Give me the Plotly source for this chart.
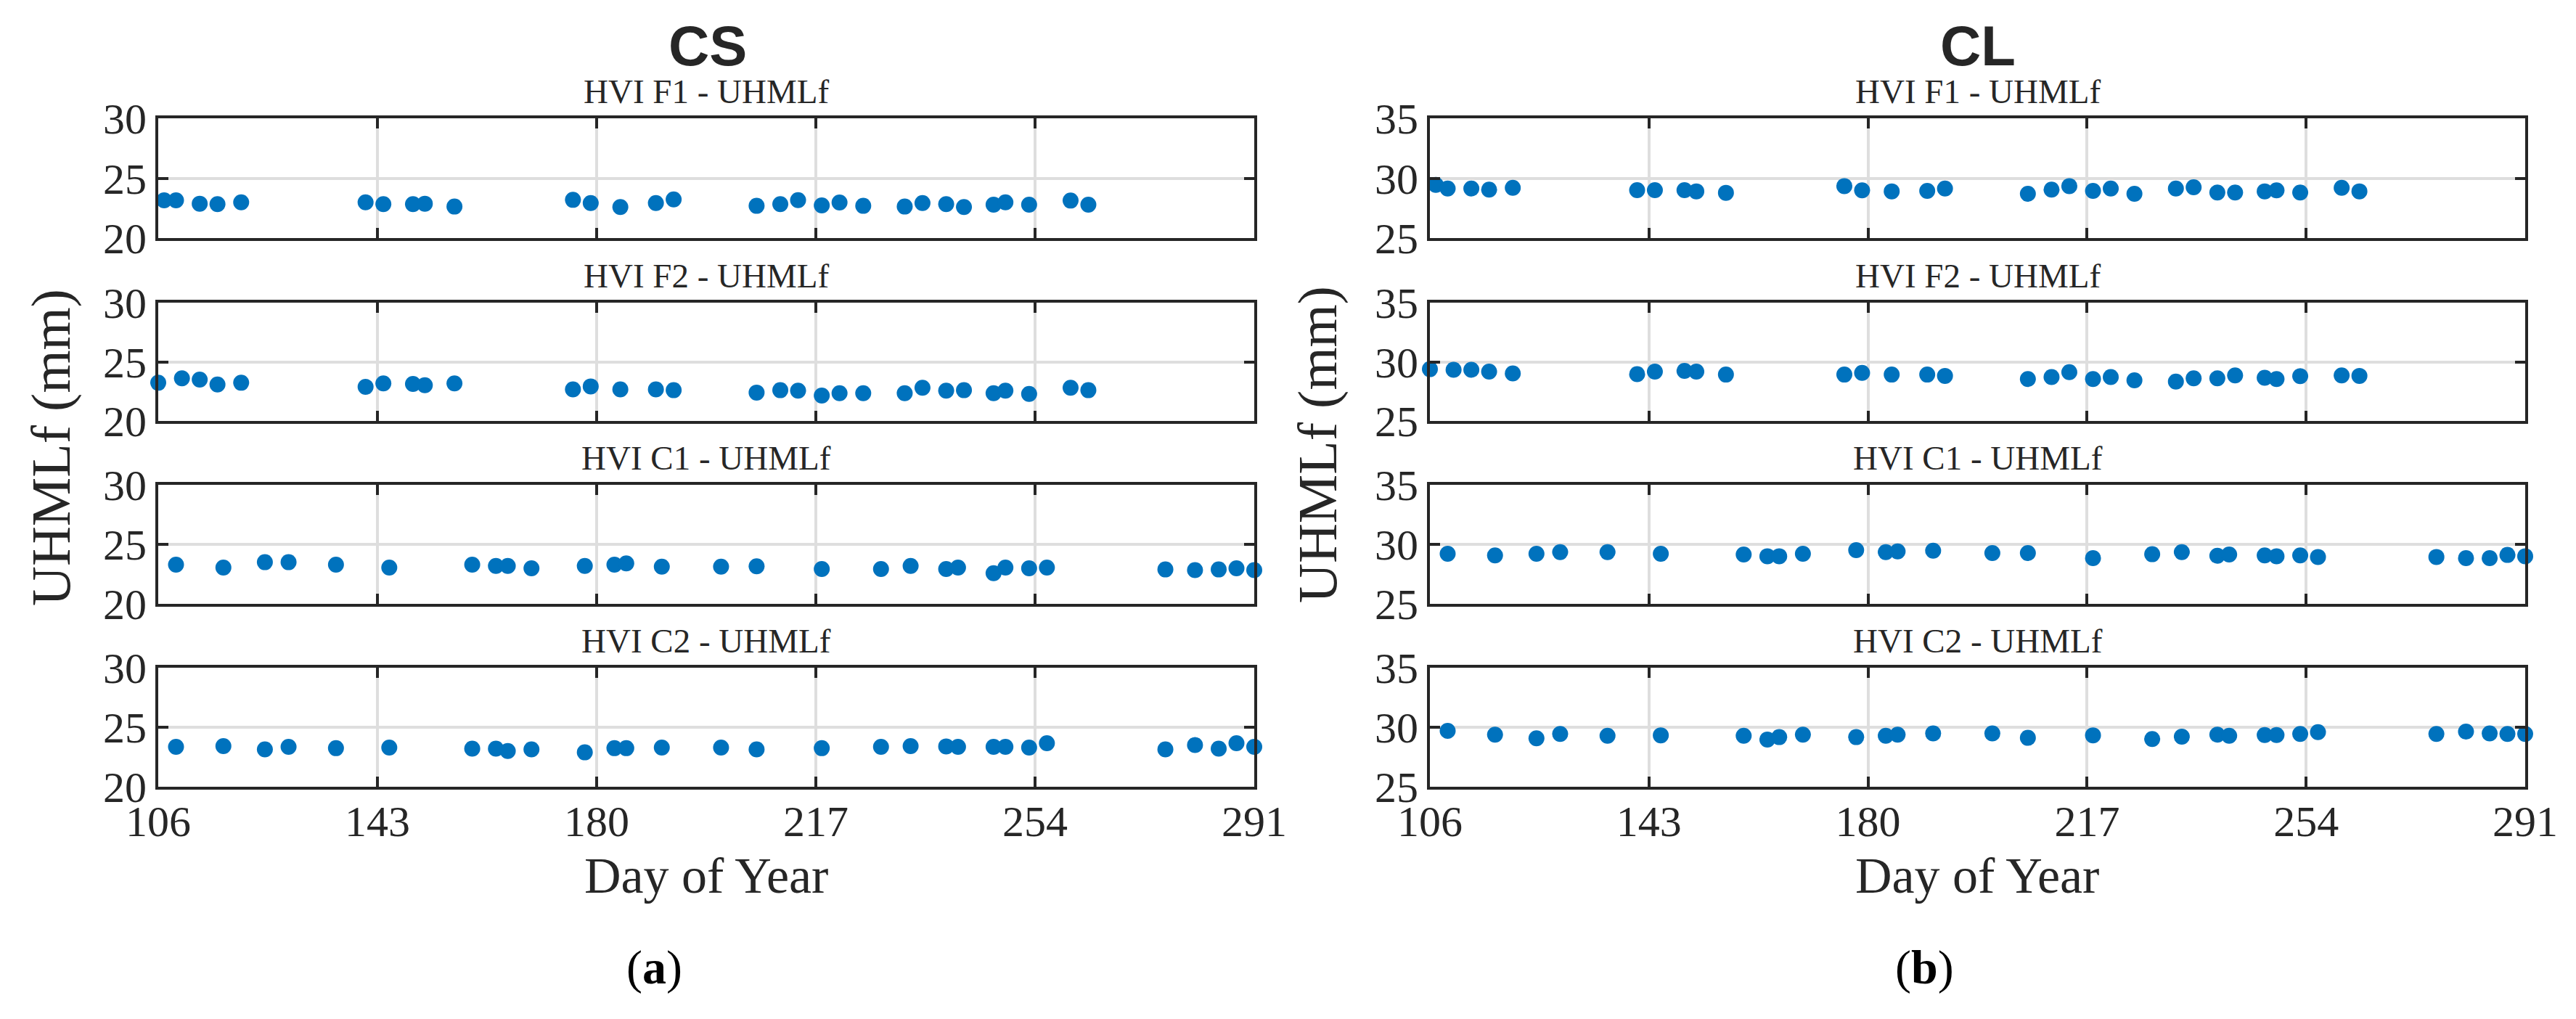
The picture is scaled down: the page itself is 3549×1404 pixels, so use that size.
import plotly.graph_objects as go

# day-of-year sampling (F panels and C panels use different days)
days_f1 = [107, 109, 113, 116, 120, 141, 144, 149, 151, 156, 176, 179, 184, 190, 193,
           207, 211, 214, 218, 221, 225, 232, 235, 239, 242, 247, 249, 253, 260, 263]
days_f2 = [106, 110, 113, 116, 120, 141, 144, 149, 151, 156, 176, 179, 184, 190, 193,
           207, 211, 214, 218, 221, 225, 232, 235, 239, 242, 247, 249, 253, 260, 263]
days_c = [109, 117, 124, 128, 136, 145, 159, 163, 165, 169, 178, 183, 185, 191, 201,
          207, 218, 228, 233, 239, 241, 247, 249, 253, 256, 276, 281, 285, 288, 291]

cs_f1 = [23.15, 23.15, 22.87, 22.83, 22.99, 22.99, 22.83, 22.83, 22.87, 22.63,
         23.19, 22.93, 22.59, 22.93, 23.23, 22.69, 22.83, 23.17, 22.73, 22.97,
         22.69, 22.63, 22.93, 22.83, 22.59, 22.79, 22.99, 22.79, 23.13, 22.79]
cs_f2 = [23.23, 23.6, 23.5, 23.08, 23.23, 22.88, 23.17, 23.13, 23.02, 23.17,
         22.67, 22.92, 22.67, 22.67, 22.6, 22.4, 22.6, 22.56, 22.15, 22.35,
         22.35, 22.35, 22.81, 22.56, 22.6, 22.35, 22.56, 22.29, 22.81, 22.6]
cs_c1 = [23.29, 23.05, 23.5, 23.5, 23.29, 23.05, 23.29, 23.19, 23.19, 22.99,
         23.19, 23.29, 23.4, 23.13, 23.13, 23.15, 22.93, 22.93, 23.19, 22.93,
         23.05, 22.58, 23.05, 22.99, 23.05, 22.89, 22.83, 22.89, 22.99, 22.83]
cs_c2 = [23.35, 23.41, 23.14, 23.35, 23.24, 23.29, 23.2, 23.2, 23.0, 23.14,
         22.89, 23.24, 23.24, 23.29, 23.29, 23.14, 23.24, 23.35, 23.41, 23.39,
         23.35, 23.35, 23.35, 23.29, 23.66, 23.14, 23.51, 23.2, 23.66, 23.35]

cl_f1 = [29.44, 29.14, 29.14, 29.04, 29.2, 29.0, 29.0, 29.0, 28.9, 28.78,
         29.34, 28.98, 28.9, 28.94, 29.14, 28.7, 29.04, 29.34, 28.94, 29.14,
         28.7, 29.14, 29.24, 28.8, 28.8, 28.9, 28.98, 28.8, 29.2, 28.9]
cl_f2 = [29.38, 29.33, 29.33, 29.17, 29.02, 28.96, 29.17, 29.23, 29.17, 28.92,
         28.92, 29.06, 28.92, 28.92, 28.81, 28.54, 28.71, 29.13, 28.54, 28.71,
         28.44, 28.33, 28.6, 28.6, 28.85, 28.65, 28.54, 28.79, 28.85, 28.81]
cl_c1 = [29.21, 29.07, 29.21, 29.35, 29.35, 29.21, 29.15, 29.0, 29.0, 29.21,
         29.51, 29.35, 29.41, 29.47, 29.27, 29.27, 28.84, 29.17, 29.35, 29.04,
         29.15, 29.07, 29.0, 29.07, 28.94, 28.94, 28.84, 28.84, 29.11, 29.0]
cl_c2 = [29.69, 29.38, 29.07, 29.44, 29.28, 29.32, 29.28, 28.97, 29.17, 29.38,
         29.17, 29.28, 29.38, 29.48, 29.48, 29.11, 29.32, 29.01, 29.21, 29.38,
         29.28, 29.34, 29.34, 29.44, 29.59, 29.44, 29.63, 29.48, 29.44, 29.44]

panel_titles = ["HVI F1 - UHMLf", "HVI F2 - UHMLf", "HVI C1 - UHMLf", "HVI C2 - UHMLf"]
x_ticks = [106, 143, 180, 217, 254, 291]
cs_yticks = [20, 25, 30]
cl_yticks = [25, 30, 35]

W, H = 3549, 1404
OFF = 8  # the page body margin shifts the figure by this much
SERIF = "Liberation Serif"
INK = "#262626"
BLUE = "#0072BD"


def px_x(px):
    return (px - OFF) / W


def px_y(py):
    return 1 - (py - OFF) / H


# pixel boxes of the panels (in screenshot pixels)
col_px = [(218, 1728), (1970, 3479)]
row_px = [(163, 328), (417, 580), (668, 832), (920, 1084)]

columns = [
    ([days_f1, days_f2, days_c, days_c], [cs_f1, cs_f2, cs_c1, cs_c2], cs_yticks),
    ([days_f1, days_f2, days_c, days_c], [cl_f1, cl_f2, cl_c1, cl_c2], cl_yticks),
]

fig = go.Figure()
layout = {}
annotations = []

n = 0
for c, (days_list, vals_list, yticks) in enumerate(columns):
    x0, x1 = col_px[c]
    for r in range(4):
        n += 1
        top, bot = row_px[r]
        sfx = "" if n == 1 else str(n)
        fig.add_trace(go.Scatter(
            x=days_list[r], y=vals_list[r], mode="markers",
            marker=dict(color=BLUE, size=22, line=dict(width=0)),
            cliponaxis=False, showlegend=False,
            xaxis="x" + sfx, yaxis="y" + sfx,
        ))
        common = dict(
            showline=True, linecolor=INK, linewidth=4, mirror="allticks",
            ticks="inside", ticklen=14, tickwidth=4, tickcolor=INK,
            showgrid=True, gridcolor="#dedede", gridwidth=4,
            zeroline=False, automargin=False,
            tickfont=dict(family=SERIF, size=60, color=INK),
        )
        layout["xaxis" + sfx] = dict(
            common, domain=[px_x(x0), px_x(x1)], anchor="y" + sfx,
            range=[106, 291], tickvals=x_ticks, showticklabels=(r == 3),
            ticklabelstandoff=-8,
        )
        layout["yaxis" + sfx] = dict(
            common, domain=[px_y(bot), px_y(top)], anchor="x" + sfx,
            range=[yticks[0], yticks[-1]], tickvals=yticks,
        )
        annotations.append(dict(
            text=panel_titles[r], x=px_x((x0 + x1) / 2), y=px_y(top - 37),
            xref="paper", yref="paper", xanchor="center", yanchor="middle",
            showarrow=False, font=dict(family=SERIF, size=47, color=INK),
        ))

for text, cx in [("CS", 975), ("CL", 2725)]:
    annotations.append(dict(
        text="<b>%s</b>" % text, x=px_x(cx), y=px_y(63), xref="paper", yref="paper",
        xanchor="center", yanchor="middle", showarrow=False,
        font=dict(family="Liberation Sans", size=78, color=INK),
    ))

for cx in [973, 2724]:
    annotations.append(dict(
        text="Day of Year", x=px_x(cx), y=px_y(1206), xref="paper", yref="paper",
        xanchor="center", yanchor="middle", showarrow=False,
        font=dict(family=SERIF, size=70, color=INK),
    ))

for cx, cy in [(70, 617), (1816, 613)]:
    annotations.append(dict(
        text="UHMLf (mm)", x=px_x(cx), y=px_y(cy), xref="paper", yref="paper",
        xanchor="center", yanchor="middle", textangle=-90, showarrow=False,
        font=dict(family=SERIF, size=76, color=INK),
    ))

for text, cx in [("(<b>a</b>)", 901), ("(<b>b</b>)", 2651)]:
    annotations.append(dict(
        text=text, x=px_x(cx), y=px_y(1333), xref="paper", yref="paper",
        xanchor="center", yanchor="middle", showarrow=False,
        font=dict(family=SERIF, size=66, color="black"),
    ))

fig.update_layout(
    **layout,
    annotations=annotations,
    width=W, height=H, autosize=False,
    margin=dict(l=0, r=0, t=0, b=0, pad=0),
    paper_bgcolor="white", plot_bgcolor="white",
)

fig.write_html("out.html")
